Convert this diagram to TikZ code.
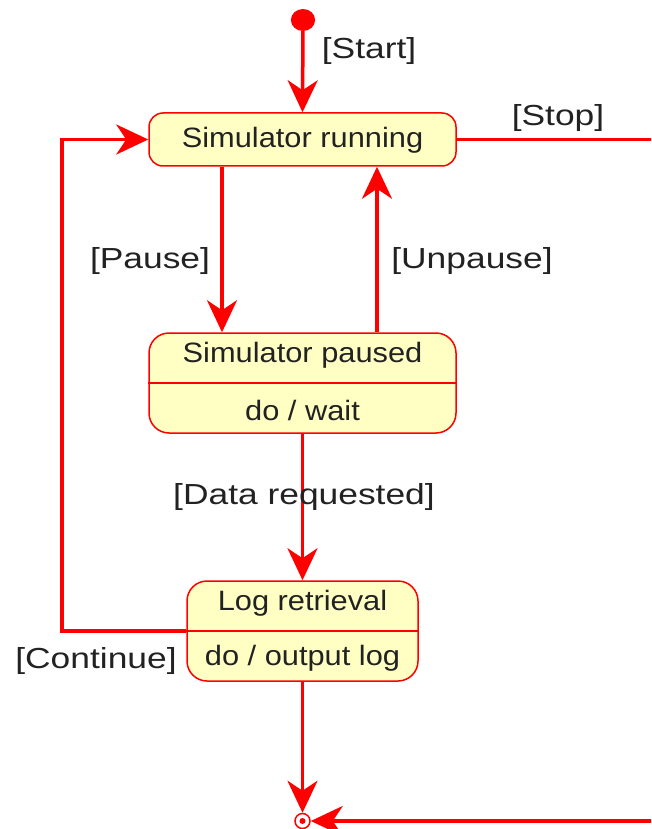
\documentclass[tikz,border=0pt]{standalone}
\usepackage{fontspec}
\usetikzlibrary{arrows.meta,calc}
\newfontfamily\labfont[FakeStretch=1.22]{Liberation Sans}
\newfontfamily\stfont[FakeStretch=1.1]{Liberation Sans}
\definecolor{ured}{RGB}{255,0,0}
\definecolor{ufill}{RGB}{255,255,196}
\definecolor{utext}{RGB}{34,34,34}
\tikzset{
  conn/.style={draw=ured, line width=3.5pt, -{Stealth[length=32pt,width=30pt,inset=10pt]}},
  line/.style={draw=ured, line width=3.5pt},
  statebox/.style={draw=ured, fill=ufill, line width=1.5pt, rounded corners=14pt, inner sep=0pt},
  sttext/.style={text=utext, font=\stfont\fontsize{28}{30}\selectfont, inner sep=0pt},
  labtext/.style={text=utext, font=\labfont\fontsize{29}{31}\selectfont, inner sep=0pt},
}
\begin{document}
\begin{tikzpicture}[x=1pt,y=-1pt]
\useasboundingbox (0,0) rectangle (651,829);
\clip (0,0) rectangle (651,829);
% states
\node[statebox, minimum width=307pt, minimum height=53pt] (running) at (302.5,139.5) {};
\node[sttext] (runningt) at (302.5,140) {Simulator running};
\node[statebox, rounded corners=20pt, minimum width=307pt, minimum height=100pt] (paused) at (302.5,383) {};
\draw[draw=ured, line width=1.5pt] (paused.west) -- (paused.east);
\node[sttext] (pausedt) at (302.5,355) {Simulator paused};
\node[sttext] (pausedd) at (302.5,410) {do / wait};
\node[statebox, rounded corners=20pt, minimum width=231pt, minimum height=100pt] (log) at (302.5,631) {};
\draw[draw=ured, line width=1.5pt] (log.west) -- (log.east);
\node[sttext] (logt) at (302.5,603) {Log retrieval};
\node[sttext] (logd) at (302.5,658) {do / output log};
% start and final
\node[circle, fill=ured, minimum width=22pt, minimum height=20pt, inner sep=0pt, xscale=1.1] (start) at (303,20) {};
\node[circle, draw=ured, fill=white, line width=1.5pt, minimum size=15pt, inner sep=0pt] (final) at (302.5,821) {};
\fill[ured] (final.center) circle (3pt);
% helper coordinates
\coordinate (px) at (222,0);
\coordinate (ux) at (377,0);
\coordinate (lx) at (62,0);
\coordinate (rc) at (670,500);
% connectors
\draw[conn] (start) -- (running.north);
\draw[conn] (running.south -| px) -- (paused.north -| px);
\draw[conn] (paused.north -| ux) -- (running.south -| ux);
\draw[conn] (paused.south) -- (log.north);
\draw[conn] (log.west) -| (lx |- log.west) |- (running.west);
\draw[conn] (log.south) -- (final.north);
\draw[conn] (running.east) -| (rc) |- (final.east);
% labels
\node[labtext] (lstart) at (369,51) {[Start]};
\node[labtext] (lstop) at (558,118) {[Stop]};
\node[labtext] (lpause) at (150,261) {[Pause]};
\node[labtext] (lunpause) at (472,261) {[Unpause]};
\node[labtext] (ldata) at (304,497) {[Data requested]};
\node[labtext] (lcont) at (96,661) {[Continue]};
\end{tikzpicture}
\end{document}
